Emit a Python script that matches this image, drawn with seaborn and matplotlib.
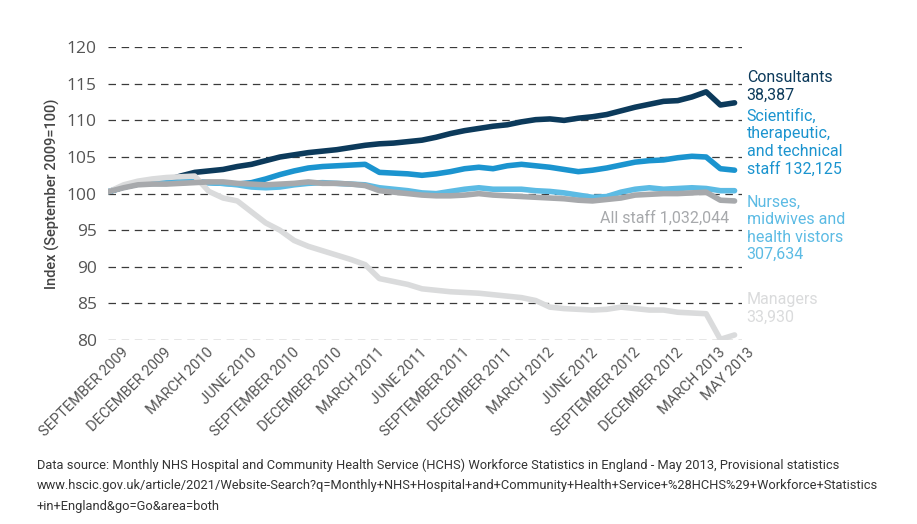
import numpy as np
import pandas as pd
import seaborn as sns
import matplotlib.pyplot as plt
import matplotlib.transforms as mtransforms

# --------------------------
# Data (index, September 2009 = 100), monthly Sep 2009 - May 2013
# --------------------------
months = pd.date_range("2009-09-01", periods=45, freq="MS")

consultants = [100.3, 100.9, 101.3, 101.5, 101.8, 102.4, 102.9, 103.1, 103.3, 103.7,
               104.0, 104.5, 105.0, 105.3, 105.6, 105.8, 106.0, 106.3, 106.6, 106.8,
               106.9, 107.1, 107.3, 107.7, 108.2, 108.6, 108.9, 109.2, 109.4, 109.8,
               110.1, 110.2, 110.0, 110.3, 110.5, 110.8, 111.3, 111.8, 112.2, 112.6,
               112.7, 113.2, 113.9, 112.1, 112.4]
scientific = [100.3, 100.9, 101.3, 101.4, 101.5, 101.6, 101.6, 101.5, 101.4, 101.3,
              101.5, 102.0, 102.6, 103.1, 103.5, 103.7, 103.8, 103.9, 104.0, 102.9,
              102.8, 102.7, 102.5, 102.7, 103.0, 103.4, 103.6, 103.4, 103.8, 104.0,
              103.8, 103.6, 103.3, 103.0, 103.2, 103.5, 103.9, 104.3, 104.5, 104.6,
              104.9, 105.1, 105.0, 103.4, 103.2]
nurses = [100.3, 100.9, 101.3, 101.4, 101.4, 101.5, 101.6, 101.5, 101.4, 101.2,
          100.9, 100.8, 100.9, 101.2, 101.4, 101.5, 101.4, 101.3, 101.2, 100.8,
          100.6, 100.4, 100.1, 100.0, 100.3, 100.6, 100.8, 100.6, 100.6, 100.6,
          100.4, 100.3, 100.1, 99.8, 99.5, 99.6, 100.2, 100.6, 100.8, 100.6,
          100.7, 100.8, 100.7, 100.4, 100.4]
all_staff = [100.3, 100.8, 101.2, 101.3, 101.3, 101.4, 101.5, 101.6, 101.6, 101.4,
             101.3, 101.2, 101.3, 101.4, 101.6, 101.4, 101.4, 101.3, 101.1, 100.4,
             100.2, 100.0, 99.8, 99.7, 99.7, 99.8, 100.0, 99.8, 99.7, 99.6,
             99.5, 99.4, 99.3, 99.1, 99.0, 99.2, 99.4, 99.8, 99.9, 100.0,
             100.0, 100.1, 100.2, 99.1, 99.0]
managers = [100.3, 101.2, 101.7, 102.0, 102.2, 102.3, 102.4, 100.3, 99.4, 99.0,
            97.5, 96.0, 95.0, 93.6, 92.8, 92.2, 91.6, 91.0, 90.3, 88.4,
            88.0, 87.6, 87.0, 86.8, 86.6, 86.5, 86.4, 86.2, 86.0, 85.8,
            85.4, 84.5, 84.3, 84.2, 84.1, 84.2, 84.5, 84.3, 84.1, 84.1,
            83.8, 83.7, 83.6, 80.1, 80.7]

series_names = ["Consultants", "Scientific", "Nurses", "Managers", "All staff"]
series_values = [consultants, scientific, nurses, managers, all_staff]
colors = ["#0c3a5b", "#1b94cf", "#5cbbe4", "#dadbdc", "#a7a9ac"]

end_labels = ["Consultants\n38,387",
              "Scientific,\ntherapeutic,\nand technical\nstaff 132,125",
              "Nurses,\nmidwives and\nhealth vistors\n307,634",
              "Managers\n33,930"]
all_staff_label = "All staff 1,032,044"

source_text = ("Data source: Monthly NHS Hospital and Community Health Service (HCHS) Workforce Statistics in England - May 2013, Provisional statistics\n"
               "www.hscic.gov.uk/article/2021/Website-Search?q=Monthly+NHS+Hospital+and+Community+Health+Service+%28HCHS%29+Workforce+Statistics\n"
               "+in+England&go=Go&area=both")

# --------------------------
# Long-form table
# --------------------------
rows = []
for name, vals in zip(series_names, series_values):
    for i, v in enumerate(vals):
        rows.append({"month": i, "series": name, "value": v})
df = pd.DataFrame(rows)

tick_idx = [i for i, m in enumerate(months) if m.month in (3, 6, 9, 12)] + [len(months) - 1]
tick_lab = [months[i].strftime("%B %Y").upper() for i in tick_idx]

# --------------------------
# Plot
# --------------------------
sns.set_style("white")
plt.rcParams["font.family"] = ["Roboto", "DejaVu Sans"]

fig = plt.figure(figsize=(9.17, 5.24), dpi=100)
ax = fig.add_axes([0.1178, 0.351, 0.691, 0.559])

sns.lineplot(data=df, x="month", y="value", hue="series", hue_order=series_names,
             palette=dict(zip(series_names, colors)), linewidth=4, legend=False,
             ax=ax, solid_capstyle="round")

ax.set_xlim(-0.1, 44.5)
ax.set_ylim(80, 120)
ax.set_yticks(np.arange(80, 121, 5))
for y in np.arange(80, 121, 5):
    ax.axhline(y, color="#3a3a3a", lw=0.9, ls=(0, (6, 4.5)), zorder=0)
for s in ax.spines.values():
    s.set_visible(False)

ax.tick_params(axis="y", length=0, pad=8, labelsize=12.5, labelcolor="#555555")
ax.tick_params(axis="x", length=0, pad=4, labelsize=10.5, labelcolor="#555555")
ax.set_xticks(tick_idx)
ax.set_xticklabels(tick_lab, rotation=45, ha="right", va="top", rotation_mode="anchor")
offset = mtransforms.ScaledTranslation(0.12, 0, fig.dpi_scale_trans)
for lab in ax.get_xticklabels():
    lab.set_transform(lab.get_transform() + offset)
for lab in ax.get_yticklabels():
    lab.set_family(["Open Sans", "DejaVu Sans"])

ax.set_xlabel("")
ax.set_ylabel("Index (September 2009=100)", fontsize=10.5, color="#444444",
              fontweight="medium", labelpad=5)

# end labels
label_y = [116.9, 111.6, 99.9, 86.6]
for txt, col, y in zip(end_labels, colors[:4], label_y):
    ax.text(1.008, (y - 80) / 40, txt, transform=ax.transAxes, color=col,
            fontsize=11.5, va="top", ha="left", linespacing=1.22)
ax.text(43.6, 96.7, all_staff_label, color=colors[4], fontsize=11.5, ha="right", va="center")

fig.text(0.04, 0.125, source_text, fontsize=9.3, color="#333333", va="top",
         ha="left", linespacing=1.75)

fig.savefig("out.png", dpi=100)
